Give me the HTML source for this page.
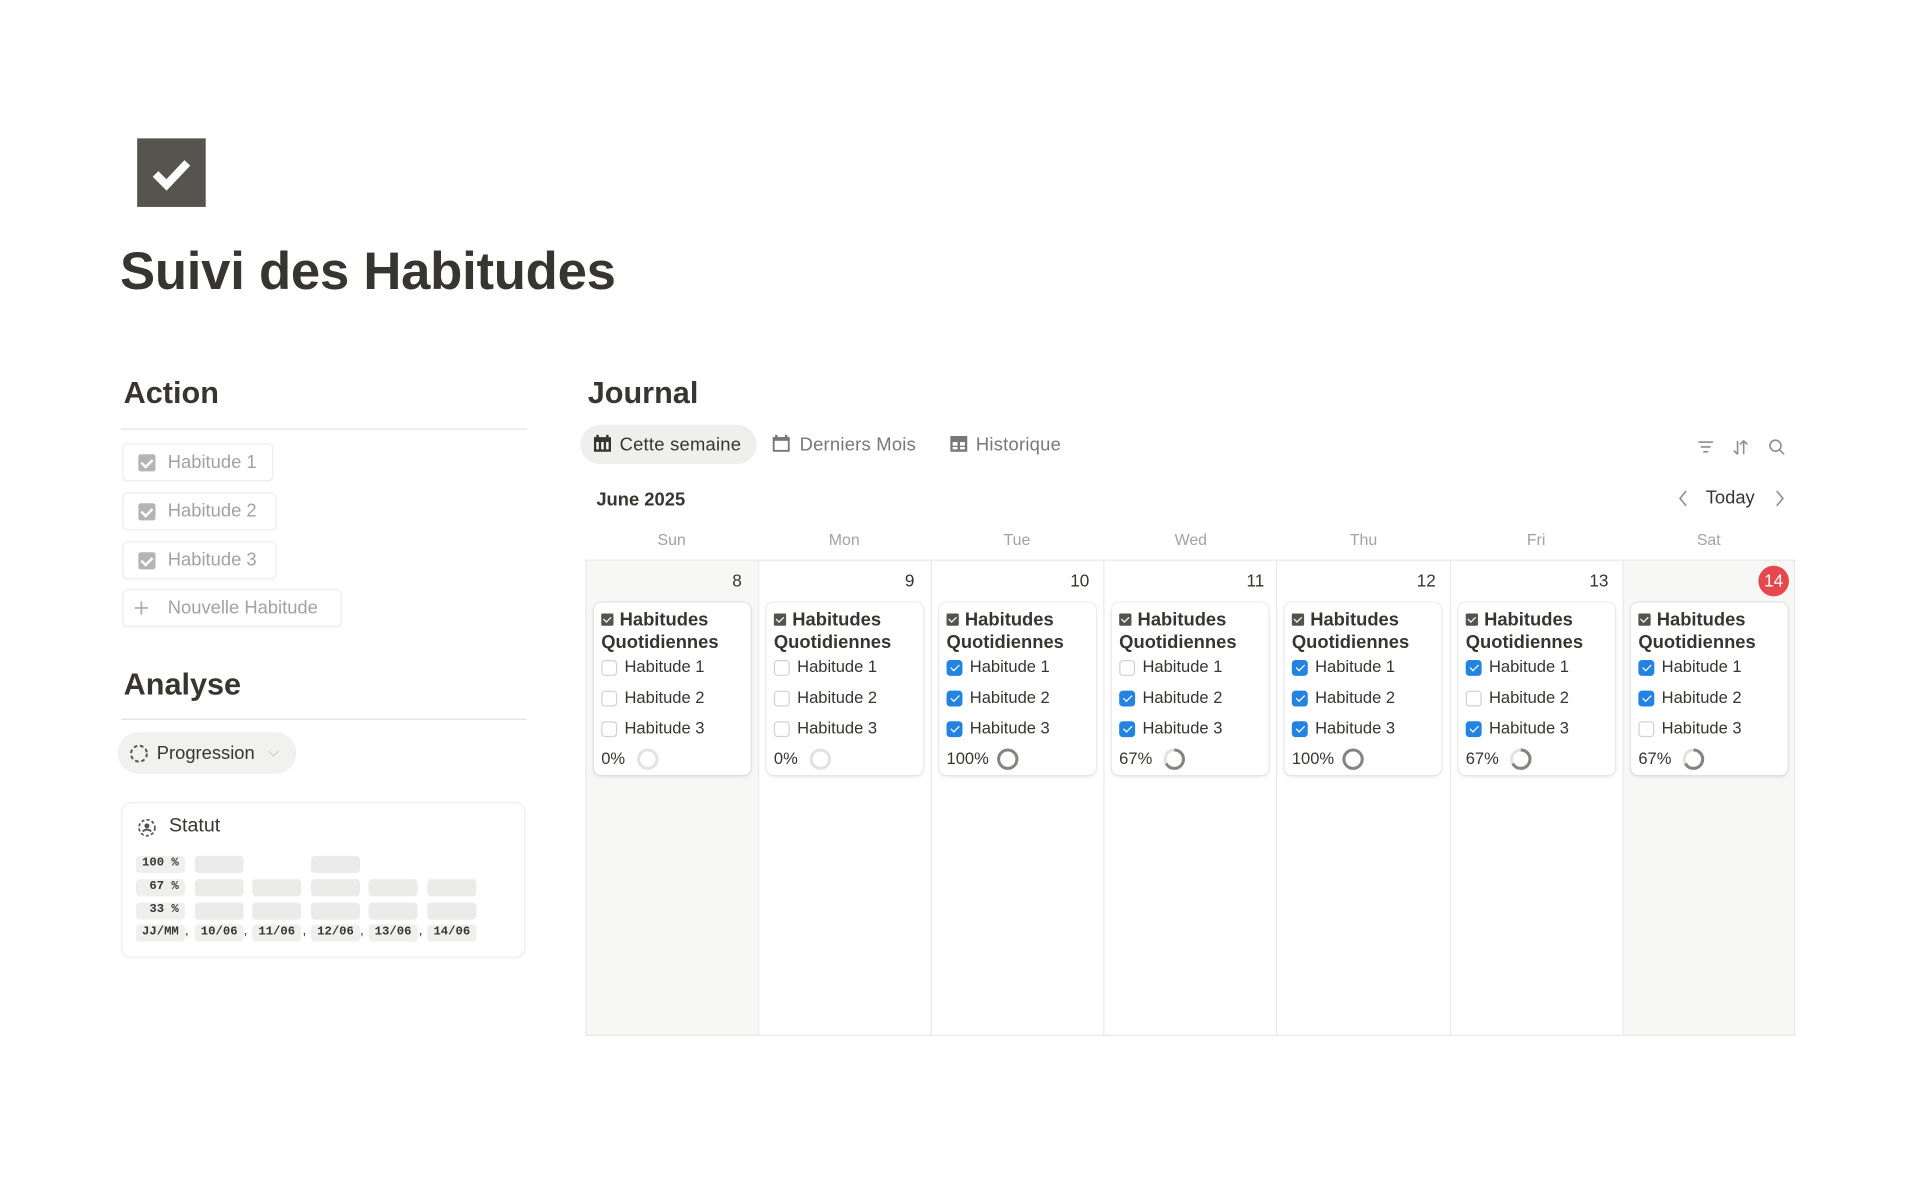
<!DOCTYPE html>
<html><head><meta charset="utf-8"><style>
html,body{margin:0;padding:0;background:#fff;width:1920px;height:1199px;overflow:hidden}
#w{position:absolute;left:0;top:0;width:1568px;height:979px;transform:scale(1.22449);transform-origin:0 0;font-family:"Liberation Sans",sans-serif;color:#37352f}
.a{position:absolute;white-space:nowrap}
.h2{font-size:25px;font-weight:bold;color:#37352f}
.btn{position:absolute;border:1px solid #eeeeec;border-radius:4px;height:29px;box-shadow:0 1px 2px rgba(0,0,0,.03)}
.btn span{position:absolute;left:36px;top:6px;font-size:15px;color:#a3a29e}
.btn i{position:absolute;left:12px;top:8px;width:14px;height:14px;background:#b5b4b0;border-radius:2px}
.btn i:after{content:"";position:absolute;left:4px;top:2px;width:4px;height:7px;border:solid #fff;border-width:0 2px 2px 0;transform:rotate(45deg)}
.mono{font-family:"Liberation Mono",monospace;font-size:10px;font-weight:bold;background:#efefed;border-radius:3px;position:absolute;height:14px;line-height:14px;text-align:center}
.bar{position:absolute;width:40px;height:14px;background:#ebebe9;border-radius:3px}
.col{position:absolute;top:457px;height:389px;border-left:1px solid #e9e9e7}
.dn{position:absolute;top:466px;font-size:14px;color:#37352f}
.dh{position:absolute;top:433px;font-size:13px;color:#a3a29e;width:141px;text-align:center}
.card{position:absolute;top:492px;width:128px;height:141px;border-radius:6px;background:#fff;box-shadow:0 0 0 1px rgba(15,15,15,.07),0 2px 4px rgba(15,15,15,.06)}
.ct{position:absolute;left:6px;top:6px;font-size:15px;font-weight:bold;line-height:18px;color:#37352f}
.ct b{display:inline-block;width:10px;height:10px;background:#55534e;border-radius:1px;margin-right:5px;position:relative;top:0px}
.ct b:after{content:"";position:absolute;left:3px;top:1px;width:2.5px;height:5px;border:solid #fff;border-width:0 1.3px 1.3px 0;transform:rotate(45deg)}
.row{position:absolute;left:6px;font-size:13.5px;color:#37352f}
.cb{display:inline-block;width:13px;height:13px;border:1px solid #d3d2cf;border-radius:3px;vertical-align:-3px;margin-right:6px;position:relative;box-sizing:border-box}
.cb.on{background:#2383e2;border-color:#2383e2}
.cb.on:after{content:"";position:absolute;left:3.5px;top:1px;width:3px;height:6px;border:solid #fff;border-width:0 1.6px 1.6px 0;transform:rotate(45deg)}
.pc{position:absolute;left:6px;top:120px;font-size:13.5px}
.pc svg{position:absolute;top:-2px}
</style></head><body><div id="w">
<div class="a" style="left:112px;top:113px;width:56px;height:56px;background:#55544f"></div>
<svg class="a" style="left:112px;top:113px" width="56" height="56"><path d="M15 29 L24 38 L41 20" stroke="#fff" stroke-width="6.5" fill="none"/></svg>
<div class="a" style="left:98px;top:198px;font-size:43px;font-weight:bold;letter-spacing:-0.2px">Suivi des Habitudes</div>

<div class="a h2" style="left:101px;top:307px">Action</div>
<div class="a" style="left:99px;top:350px;width:331px;height:1px;background:#e3e2e0"></div>
<div class="btn" style="left:100px;top:362px;width:121px"><i></i><span>Habitude 1</span></div>
<div class="btn" style="left:100px;top:402px;width:124px"><i></i><span>Habitude 2</span></div>
<div class="btn" style="left:100px;top:442px;width:124px"><i></i><span>Habitude 3</span></div>
<div class="btn" style="left:100px;top:481px;width:177px"><span style="left:8px;top:2px;font-size:22px;color:#b5b4b0">+</span><span>Nouvelle Habitude</span></div>

<div class="a h2" style="left:101px;top:545px">Analyse</div>
<div class="a" style="left:99px;top:587px;width:331px;height:1px;background:#e3e2e0"></div>
<div class="a" style="left:96px;top:598px;width:146px;height:34px;background:#f1f1ef;border-radius:17px"></div>
<svg class="a" style="left:105px;top:607px" width="17" height="17"><circle cx="8.5" cy="8.5" r="6.5" fill="none" stroke="#55534e" stroke-width="1.6" stroke-dasharray="3 2.2"/></svg>
<div class="a" style="left:128px;top:607px;font-size:15px">Progression</div>
<div class="a" style="left:219px;top:607px;font-size:12px;color:#b5b4b0">⌵</div>

<div class="a" style="left:99px;top:655px;width:328px;height:125px;border:1px solid #eeeeec;border-radius:8px;box-shadow:0 1px 3px rgba(0,0,0,.04)"></div>
<svg class="a" style="left:112px;top:668px" width="16" height="16"><circle cx="8" cy="8" r="6.5" fill="none" stroke="#55534e" stroke-width="1.4" stroke-dasharray="2.5 1.8"/><circle cx="8" cy="6.5" r="2" fill="#55534e"/><path d="M4.5 11 Q8 8 11.5 11" stroke="#55534e" stroke-width="1.5" fill="none"/></svg>
<div class="a" style="left:138px;top:666px;font-size:16px">Statut</div>
<div class="mono" style="left:111px;top:699px;width:40px">100 %</div>
<div class="mono" style="left:111px;top:718px;width:40px">&nbsp;67 %</div>
<div class="mono" style="left:111px;top:737px;width:40px">&nbsp;33 %</div>
<div class="mono" style="left:111px;top:755px;width:40px">JJ/MM</div>
<div class="bar" style="left:159px;top:699px"></div><div class="bar" style="left:254px;top:699px"></div>
<div class="bar" style="left:159px;top:718px"></div><div class="bar" style="left:206px;top:718px"></div><div class="bar" style="left:254px;top:718px"></div><div class="bar" style="left:301px;top:718px"></div><div class="bar" style="left:349px;top:718px"></div>
<div class="bar" style="left:159px;top:737px"></div><div class="bar" style="left:206px;top:737px"></div><div class="bar" style="left:254px;top:737px"></div><div class="bar" style="left:301px;top:737px"></div><div class="bar" style="left:349px;top:737px"></div>
<div class="mono" style="left:159px;top:755px;width:40px">10/06</div><div class="mono" style="left:206px;top:755px;width:40px">11/06</div><div class="mono" style="left:254px;top:755px;width:40px">12/06</div><div class="mono" style="left:301px;top:755px;width:40px">13/06</div><div class="mono" style="left:349px;top:755px;width:40px">14/06</div>
<div class="a" style="left:151px;top:754px;font-size:11px">,</div><div class="a" style="left:199px;top:754px;font-size:11px">,</div><div class="a" style="left:247px;top:754px;font-size:11px">,</div><div class="a" style="left:294px;top:754px;font-size:11px">,</div><div class="a" style="left:342px;top:754px;font-size:11px">,</div>

<div class="a h2" style="left:480px;top:307px">Journal</div>
<div class="a" style="left:474px;top:347px;width:144px;height:32px;background:#efefed;border-radius:16px"></div>
<svg class="a" style="left:485px;top:355px" width="14" height="14"><rect x="0" y="2" width="14" height="12" fill="#37352f"/><rect x="2" y="0" width="2" height="3" fill="#37352f"/><rect x="10" y="0" width="2" height="3" fill="#37352f"/><rect x="2" y="6" width="2" height="6" fill="#fff"/><rect x="6" y="6" width="2" height="6" fill="#fff"/><rect x="10" y="6" width="2" height="6" fill="#fff"/></svg>
<div class="a" style="left:506px;top:355px;font-size:15px;letter-spacing:0.2px">Cette semaine</div>
<svg class="a" style="left:631px;top:355px" width="14" height="14"><rect x="0.8" y="2.8" width="12.4" height="10.4" fill="none" stroke="#787774" stroke-width="1.6"/><rect x="0" y="2" width="14" height="3" fill="#787774"/><rect x="2" y="0" width="2" height="3" fill="#787774"/><rect x="10" y="0" width="2" height="3" fill="#787774"/></svg>
<div class="a" style="left:653px;top:355px;font-size:15px;color:#787774;letter-spacing:0.2px">Derniers Mois</div>
<svg class="a" style="left:776px;top:356px" width="14" height="13"><rect width="14" height="13" fill="#787774"/><rect x="2" y="5" width="4" height="3" fill="#fff"/><rect x="8" y="5" width="4" height="3" fill="#fff"/><rect x="2" y="9" width="4" height="2" fill="#fff"/><rect x="8" y="9" width="4" height="2" fill="#fff"/></svg>
<div class="a" style="left:797px;top:355px;font-size:15px;color:#787774;letter-spacing:0.2px">Historique</div>
<svg class="a" style="left:1386px;top:358px" width="76" height="15" stroke="#8f8e8a" stroke-width="1.3" fill="none"><path d="M1 3h12M3 7h8M5 11h4"/><path d="M33 2v11M30 10l3 3M38 13V2M35 5l3-3l3 3"/><circle cx="64" cy="6" r="4.5"/><path d="M67.5 9.5l3.5 3.5"/></svg>
<div class="a" style="left:487px;top:400px;font-size:15px;font-weight:bold">June 2025</div>
<svg class="a" style="left:1368px;top:399px" width="92" height="16" stroke="#8f8e8a" stroke-width="1.3" fill="none"><path d="M9 2l-5 6l5 6"/><path d="M83 2l5 6l-5 6"/></svg>
<div class="a" style="left:1393px;top:398px;font-size:15px">Today</div>

<div class="a" style="left:478px;top:457px;width:141px;height:389px;background:#f7f7f5"></div>
<div class="a" style="left:1325px;top:457px;width:141px;height:389px;background:#f7f7f5"></div>
<div class="a" style="left:478px;top:457px;width:988px;height:389px;border:1px solid #e9e9e7;box-sizing:border-box"></div>
<div class="col" style="left:619px"></div><div class="col" style="left:760px"></div><div class="col" style="left:901px"></div><div class="col" style="left:1042px"></div><div class="col" style="left:1184px"></div><div class="col" style="left:1325px"></div>

<div class="dh" style="left:478px">Sun</div><div class="dh" style="left:619px">Mon</div><div class="dh" style="left:760px">Tue</div><div class="dh" style="left:902px">Wed</div><div class="dh" style="left:1043px">Thu</div><div class="dh" style="left:1184px">Fri</div><div class="dh" style="left:1325px">Sat</div>
<div class="dn" style="left:598px">8</div><div class="dn" style="left:739px">9</div><div class="dn" style="left:874px">10</div><div class="dn" style="left:1018px">11</div><div class="dn" style="left:1157px">12</div><div class="dn" style="left:1298px">13</div>
<div class="a" style="left:1436px;top:462px;width:25px;height:25px;border-radius:50%;background:#e5484d;color:#fff;font-size:14px;text-align:center;line-height:25px">14</div>

<div class="card" style="left:485px"><div class="ct"><b></b>Habitudes<br>Quotidiennes</div>
<div class="row" style="top:45px"><span class="cb"></span>Habitude 1</div><div class="row" style="top:70px"><span class="cb"></span>Habitude 2</div><div class="row" style="top:95px"><span class="cb"></span>Habitude 3</div>
<div class="pc">0%<svg style="left:28px" width="20" height="20"><circle cx="10" cy="10" r="7.5" fill="none" stroke="#e3e2e0" stroke-width="2.5"/></svg></div></div>

<div class="card" style="left:626px"><div class="ct"><b></b>Habitudes<br>Quotidiennes</div>
<div class="row" style="top:45px"><span class="cb"></span>Habitude 1</div><div class="row" style="top:70px"><span class="cb"></span>Habitude 2</div><div class="row" style="top:95px"><span class="cb"></span>Habitude 3</div>
<div class="pc">0%<svg style="left:28px" width="20" height="20"><circle cx="10" cy="10" r="7.5" fill="none" stroke="#e3e2e0" stroke-width="2.5"/></svg></div></div>

<div class="card" style="left:767px"><div class="ct"><b></b>Habitudes<br>Quotidiennes</div>
<div class="row" style="top:45px"><span class="cb on"></span>Habitude 1</div><div class="row" style="top:70px"><span class="cb on"></span>Habitude 2</div><div class="row" style="top:95px"><span class="cb on"></span>Habitude 3</div>
<div class="pc">100%<svg style="left:40px" width="20" height="20"><circle cx="10" cy="10" r="7.5" fill="none" stroke="#858480" stroke-width="2.5"/></svg></div></div>

<div class="card" style="left:908px"><div class="ct"><b></b>Habitudes<br>Quotidiennes</div>
<div class="row" style="top:45px"><span class="cb"></span>Habitude 1</div><div class="row" style="top:70px"><span class="cb on"></span>Habitude 2</div><div class="row" style="top:95px"><span class="cb on"></span>Habitude 3</div>
<div class="pc">67%<svg style="left:35px" width="20" height="20"><circle cx="10" cy="10" r="7.5" fill="none" stroke="#e3e2e0" stroke-width="2.5"/><circle cx="10" cy="10" r="7.5" fill="none" stroke="#858480" stroke-width="2.5" stroke-dasharray="31.4 47.1" transform="rotate(-90 10 10)"/></svg></div></div>

<div class="card" style="left:1049px"><div class="ct"><b></b>Habitudes<br>Quotidiennes</div>
<div class="row" style="top:45px"><span class="cb on"></span>Habitude 1</div><div class="row" style="top:70px"><span class="cb on"></span>Habitude 2</div><div class="row" style="top:95px"><span class="cb on"></span>Habitude 3</div>
<div class="pc">100%<svg style="left:40px" width="20" height="20"><circle cx="10" cy="10" r="7.5" fill="none" stroke="#858480" stroke-width="2.5"/></svg></div></div>

<div class="card" style="left:1191px"><div class="ct"><b></b>Habitudes<br>Quotidiennes</div>
<div class="row" style="top:45px"><span class="cb on"></span>Habitude 1</div><div class="row" style="top:70px"><span class="cb"></span>Habitude 2</div><div class="row" style="top:95px"><span class="cb on"></span>Habitude 3</div>
<div class="pc">67%<svg style="left:35px" width="20" height="20"><circle cx="10" cy="10" r="7.5" fill="none" stroke="#e3e2e0" stroke-width="2.5"/><circle cx="10" cy="10" r="7.5" fill="none" stroke="#858480" stroke-width="2.5" stroke-dasharray="31.4 47.1" transform="rotate(-90 10 10)"/></svg></div></div>

<div class="card" style="left:1332px"><div class="ct"><b></b>Habitudes<br>Quotidiennes</div>
<div class="row" style="top:45px"><span class="cb on"></span>Habitude 1</div><div class="row" style="top:70px"><span class="cb on"></span>Habitude 2</div><div class="row" style="top:95px"><span class="cb"></span>Habitude 3</div>
<div class="pc">67%<svg style="left:35px" width="20" height="20"><circle cx="10" cy="10" r="7.5" fill="none" stroke="#e3e2e0" stroke-width="2.5"/><circle cx="10" cy="10" r="7.5" fill="none" stroke="#858480" stroke-width="2.5" stroke-dasharray="31.4 47.1" transform="rotate(-90 10 10)"/></svg></div></div>
</div></body></html>
